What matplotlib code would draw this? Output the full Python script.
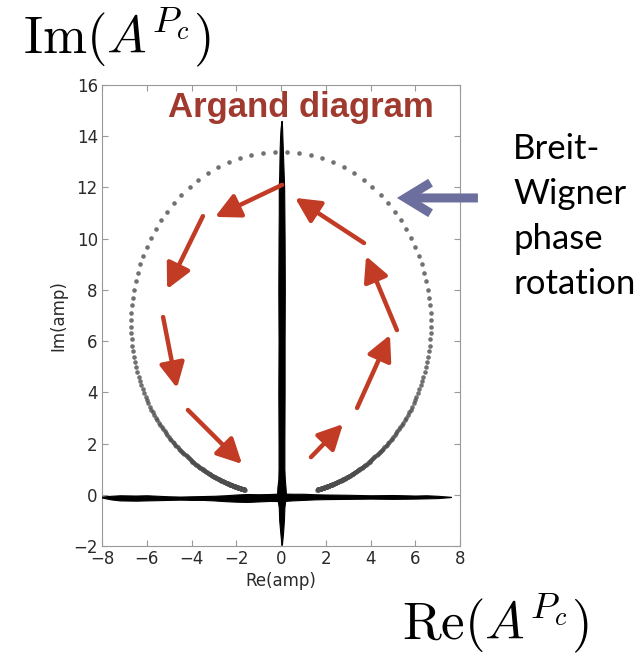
import numpy as np
import matplotlib
matplotlib.use('Agg')
from matplotlib import pyplot as plt

# Breit-Wigner circle: radius and scan of (M-E)/(Gamma/2)
bw_radius = 6.7
scan_start, scan_stop, scan_step = -8.1, 8.1, 0.04

# black cloud along the real axis: x, upper edge, lower edge
h_x = [-8.0, -7.6, -7.2, -6.5, -6.0, -5.5, -5.0, -4.5, -4.0, -3.5, -3.0, -2.5, -2.0,
       -1.5, -1.0, -0.5, 0.0, 0.5, 1.0, 1.5, 2.0, 3.0, 4.0, 5.0, 6.0, 6.5, 7.0, 7.3, 7.6]
h_up = [-0.07, -0.04, -0.02, -0.03, -0.02, -0.04, -0.06, -0.07, -0.06, -0.05, -0.04, -0.02, 0.01,
        0.03, 0.02, 0.03, 0.05, 0.04, 0.04, 0.02, 0.01, 0.0, -0.02, -0.01, -0.03, -0.02, -0.04, -0.06, -0.08]
h_lo = [-0.11, -0.18, -0.22, -0.23, -0.22, -0.21, -0.2, -0.19, -0.2, -0.2, -0.22, -0.25, -0.27,
        -0.28, -0.26, -0.24, -0.25, -0.22, -0.2, -0.18, -0.17, -0.16, -0.15, -0.16, -0.15, -0.14, -0.13, -0.11, -0.09]

# black cloud along the imaginary axis: y, left edge, right edge
v_y = [-1.95, -1.5, -1.0, -0.5, 0.0, 0.3, 0.6, 1.0, 2.0, 4.0, 6.0, 8.0, 10.0, 11.0, 12.0,
       12.5, 13.0, 13.5, 14.0, 14.3, 14.6]
v_l = [0.02, -0.03, -0.08, -0.1, -0.18, -0.16, -0.12, -0.11, -0.11, -0.12, -0.11, -0.12, -0.11, -0.1, -0.1,
       -0.08, -0.07, -0.06, -0.04, -0.02, 0.02]
v_r = [0.04, 0.09, 0.13, 0.15, 0.22, 0.2, 0.17, 0.15, 0.15, 0.16, 0.16, 0.17, 0.16, 0.15, 0.14,
       0.12, 0.1, 0.08, 0.06, 0.05, 0.03]

# red phase-rotation arrows: (tail x, tail y, head x, head y)
red_arrows = [(0.05, 12.1, -2.95, 10.85),
              (-3.49, 10.88, -5.09, 8.03),
              (-5.27, 6.94, -4.65, 4.17),
              (-4.16, 3.31, -1.74, 1.20),
              (1.34, 1.47, 2.77, 2.76),
              (3.40, 3.39, 4.87, 6.24),
              (5.18, 6.43, 3.80, 9.32),
              (3.71, 9.83, 0.63, 11.59)]

# blue pointer (tail, head)
blue_arrow = (8.8, 11.59, 5.18, 11.59)

x_ticks = [-8, -6, -4, -2, 0, 2, 4, 6, 8]
y_ticks = [-2, 0, 2, 4, 6, 8, 10, 12, 14, 16]

plt.rcParams['mathtext.fontset'] = 'cm'

fig = plt.figure(figsize=(6.44, 6.56), dpi=100)
ax = fig.add_axes([0.1584, 0.1677, 0.5559, 0.7027])

# circle of Breit-Wigner amplitudes
scan = np.arange(scan_start, scan_stop + 1e-6, scan_step)
delta = np.arctan2(1.0, scan)
re_amp = bw_radius * np.sin(2 * delta)
im_amp = bw_radius * (1 - np.cos(2 * delta))
ax.plot(re_amp, im_amp, 'o', ms=3.3, mew=0, color='0.3', alpha=0.8, zorder=3)

# noise cross
ax.fill_between(h_x, h_lo, h_up, color='black', lw=0.8, edgecolor='black', zorder=4)
ax.fill_betweenx(v_y, v_l, v_r, color='black', lw=0.8, edgecolor='black', zorder=4)

red = '#c13b25'
for x0, y0, x1, y1 in red_arrows:
    ax.annotate('', xy=(x1, y1), xytext=(x0, y0),
                arrowprops=dict(arrowstyle='-|>,head_length=0.75,head_width=0.38',
                                color=red, lw=3.2, shrinkA=0, shrinkB=0,
                                mutation_scale=20), zorder=5)

ax.annotate('', xy=blue_arrow[2:], xytext=blue_arrow[:2], annotation_clip=False,
            arrowprops=dict(arrowstyle='->,head_length=0.9,head_width=0.55',
                            color='#6c6f9e', lw=6.5, shrinkA=0, shrinkB=0,
                            mutation_scale=20, capstyle='butt', joinstyle='miter'))

ax.text(-5.05, 14.75, 'Argand diagram', color='#a03a2f', fontsize=25,
        fontweight='bold', family='Liberation Sans', va='baseline', zorder=6)

ax.set_xlim(-8, 8)
ax.set_ylim(-2, 16)
ax.set_xticks(x_ticks)
ax.set_yticks(y_ticks)
ax.tick_params(direction='in', top=True, right=True, length=4, color='0.6',
               labelsize=12, labelcolor='#2a2a2a', pad=3)
for s in ax.spines.values():
    s.set_color('0.6')
ax.set_xlabel('Re(amp)', fontsize=12, color='#2a2a2a', labelpad=3)
ax.set_ylabel('Im(amp)', fontsize=12, color='#2a2a2a', labelpad=4)

fig.text(0.0357, 0.919, r'$\mathrm{Im}(A^{P_c})$', fontsize=38, va='baseline')
fig.text(0.624, 0.025, r'$\mathrm{Re}(A^{P_c})$', fontsize=38, va='baseline')
fig.text(0.797, 0.797, 'Breit-\nWigner\nphase\nrotation', fontsize=25,
         family='Lato', va='top', linespacing=1.5)

fig.savefig('out.png', dpi=100)
